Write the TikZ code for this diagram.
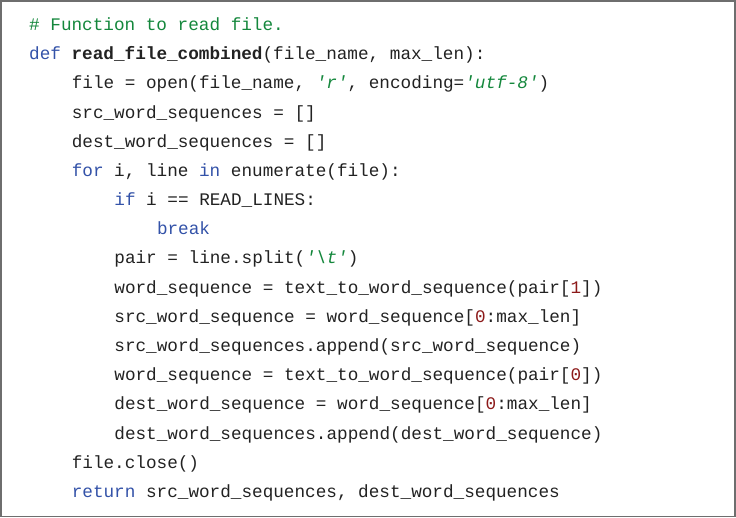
\documentclass[tikz,border=0pt]{standalone}
\usepackage{fontspec}
\setmonofont{Liberation Mono}
\definecolor{txt}{RGB}{34,34,34}
\definecolor{kwc}{RGB}{51,82,168}
\definecolor{cmc}{RGB}{20,135,60}
\definecolor{nmc}{RGB}{140,25,25}
\definecolor{frame}{RGB}{110,110,110}
\newcommand{\ckw}[1]{\textcolor{kwc}{#1}}
\newcommand{\ccm}[1]{\textcolor{cmc}{#1}}
\newcommand{\cst}[1]{\textcolor{cmc}{\itshape #1}}
\newcommand{\cnum}[1]{\textcolor{nmc}{#1}}
\tikzset{
  codeline/.style={anchor=base west, inner sep=0pt, text=txt,
    font=\ttfamily\fontsize{17.68}{20}\selectfont\frenchspacing},
}
\begin{document}
\begin{tikzpicture}[x=1pt,y=-1pt]
\useasboundingbox (0,0) rectangle (736,518);
\draw[frame, line width=1.5pt] (1,1) rectangle (735,516.5);
\def\LA{29}\def\LB{71.6}\def\LC{114.2}\def\LD{156.8}
\node[codeline] (l1) at (\LA,30.6) {\ccm{\# Function to read file.}};
\node[codeline] (l2) at (\LA,59.8) {\ckw{def} \textbf{read\_file\_combined}(file\_name, max\_len):};
\node[codeline] (l3) at (\LB,89) {file = open(file\_name, \cst{'r'}, encoding=\cst{'utf-8'})};
\node[codeline] (l4) at (\LB,118.2) {src\_word\_sequences = []};
\node[codeline] (l5) at (\LB,147.3) {dest\_word\_sequences = []};
\node[codeline] (l6) at (\LB,176.5) {\ckw{for} i, line \ckw{in} enumerate(file):};
\node[codeline] (l7) at (\LC,205.7) {\ckw{if} i == READ\_LINES:};
\node[codeline] (l8) at (\LD,234.9) {\ckw{break}};
\node[codeline] (l9) at (\LC,264) {pair = line.split(\cst{'\textbackslash t'})};
\node[codeline] (l10) at (\LC,293.2) {word\_sequence = text\_to\_word\_sequence(pair[\cnum{1}])};
\node[codeline] (l11) at (\LC,322.4) {src\_word\_sequence = word\_sequence[\cnum{0}:max\_len]};
\node[codeline] (l12) at (\LC,351.6) {src\_word\_sequences.append(src\_word\_sequence)};
\node[codeline] (l13) at (\LC,380.7) {word\_sequence = text\_to\_word\_sequence(pair[\cnum{0}])};
\node[codeline] (l14) at (\LC,409.9) {dest\_word\_sequence = word\_sequence[\cnum{0}:max\_len]};
\node[codeline] (l15) at (\LC,439.1) {dest\_word\_sequences.append(dest\_word\_sequence)};
\node[codeline] (l16) at (\LB,468.3) {file.close()};
\node[codeline] (l17) at (\LB,497.4) {\ckw{return} src\_word\_sequences, dest\_word\_sequences};
\end{tikzpicture}
\end{document}
